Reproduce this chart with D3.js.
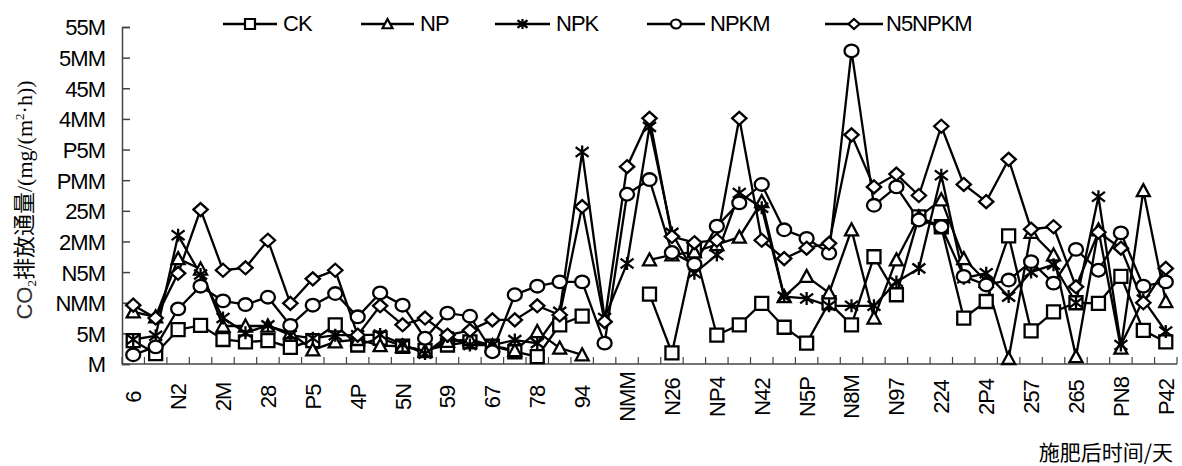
<!DOCTYPE html>
<html><head><meta charset="utf-8">
<script src="https://cdn.jsdelivr.net/npm/d3@7"></script>
<style>
body{margin:0;background:#fff;}
svg{display:block;}
</style></head>
<body>
<svg id="chart" width="1182" height="466"></svg>
<script>
// category labels (as rendered in the reference; only every second one is shown)
const days = ["6","9","N2","N6","2M","24","28","PN","P5","P9","4P","47","5N","55","59","6P","67","72","78","86","94","97","NMM","NNP","N26","NPM","NP4","NP8","N42","N47","N5P","N66","N8M","N88","N97","2NM","224","229","2P4","245","257","26N","265","292","PN8","PPM","P42"];
const yTickValues = [0,50,100,150,200,250,300,350,400,450,500,550];
const yTickLabels = ["M","5M","NMM","N5M","2MM","25M","PMM","P5M","4MM","45M","5MM","55M"];
const seriesNames = ["CK","NP","NPK","NPKM","N5NPKM"];
const CK     = [38,17,56,63,40,36,38,27,38,64,31,42,29,22,31,36,29,20,12,64,78,null,null,114,18,186,47,64,99,60,34,100,64,175,113,240,224,75,102,209,54,85,100,99,143,55,36];
const NP     = [85,77,172,155,62,62,62,51,23,36,40,30,29,21,37,40,30,22,53,26,15,null,null,170,178,183,195,207,265,110,143,116,219,75,170,240,268,172,135,9,215,178,12,219,26,283,102];
const NPK    = [40,46,210,146,75,51,63,47,42,47,47,48,32,17,45,31,31,39,34,85,346,75,164,387,214,148,178,279,255,110,107,95,95,95,134,156,308,140,148,110,150,162,100,273,31,105,53];
const NPKM   = [15,28,90,127,103,97,109,63,96,115,77,116,96,42,83,78,20,113,127,134,134,34,277,301,182,163,225,263,293,219,205,181,511,259,289,235,224,143,129,137,167,132,187,153,214,127,134];
const N5NPKM = [96,75,148,252,153,157,202,99,139,153,47,95,64,75,47,55,72,72,95,80,257,69,322,401,208,198,202,401,202,172,189,197,374,289,310,275,388,293,265,334,220,224,126,215,189,100,156];
const seriesData = [CK, NP, NPK, NPKM, N5NPKM];
const symbolKinds = ["square","triangle","star","circle","diamond"];

const svg = d3.select("#chart");
const x = d3.scaleBand().domain(days).range([122,1177]).padding(0);
const y = d3.scaleLinear().domain([0,550]).range([364,27]);

function symbolPath(kind, s){
  const h = s/2;
  switch(kind){
    case "square": return `M${-h},${-h}H${h}V${h}H${-h}Z`;
    case "triangle": return `M0,${-h}L${h},${h*0.85}L${-h},${h*0.85}Z`;
    case "diamond": return `M0,${-h}L${h*1.1},0L0,${h}L${-h*1.1},0Z`;
    case "circle": return `M${-h},0A${h},${h*0.9} 0 1,0 ${h},0A${h},${h*0.9} 0 1,0 ${-h},0Z`;
    case "star": return `M0,${-h}V${h}M${-h},${-h*0.75}L${h},${h*0.75}M${-h},${h*0.75}L${h},${-h*0.75}`;
  }
}

// axes
const axisColor = "#444";
const yAxis = d3.axisLeft(y).tickValues(yTickValues).tickSize(-8).tickPadding(17)
  .tickFormat((d,i)=>yTickLabels[i]);
const gy = svg.append("g").attr("transform","translate(122,0)").call(yAxis);
gy.select(".domain").attr("stroke",axisColor).attr("stroke-width",1.5);
gy.selectAll(".tick line").attr("stroke",axisColor).attr("stroke-width",1.5);
gy.selectAll(".tick text").attr("font-family","Liberation Sans, Arial, sans-serif")
  .attr("font-size",22).attr("letter-spacing","-1px").attr("fill","#000").attr("dy","0.36em");

// x axis: domain line, inner ticks at band boundaries, labels every second category
const gx = svg.append("g");
gx.append("line").attr("x1",122).attr("x2",1177).attr("y1",364).attr("y2",364)
  .attr("stroke",axisColor).attr("stroke-width",1.5);
const bounds = days.map(d=>x(d)).concat([x(days[days.length-1])+x.bandwidth()]);
gx.selectAll("line.tk").data(bounds).join("line").attr("class","tk")
  .attr("x1",d=>d).attr("x2",d=>d).attr("y1",364).attr("y2",357)
  .attr("stroke",axisColor).attr("stroke-width",1.2);
gx.selectAll("text").data(days.filter((d,i)=>i%2===0)).join("text")
  .attr("transform",d=>`translate(${x(d)+x.bandwidth()/2},397) rotate(-90)`)
  .attr("text-anchor","middle").attr("dy","0.36em")
  .attr("font-family","Liberation Sans, Arial, sans-serif").attr("font-size",22)
  .attr("letter-spacing","-1px").text(d=>d);

// series lines
const line = d3.line().defined(v=>v!==null)
  .x((v,i)=>x(days[i])+x.bandwidth()/2).y(v=>y(v));
seriesData.forEach((arr,k)=>{
  svg.append("path").datum(arr).attr("d",line).attr("fill","none")
    .attr("stroke","#000").attr("stroke-width",2.3);
});
seriesData.forEach((arr,k)=>{
  const kind = symbolKinds[k];
  const pts = arr.map((v,i)=>({v,i})).filter(p=>p.v!==null);
  svg.append("g").selectAll("path").data(pts).join("path")
    .attr("transform",p=>`translate(${x(days[p.i])+x.bandwidth()/2},${y(p.v)})`)
    .attr("d",symbolPath(kind, kind==="circle"?14:13))
    .attr("fill",kind==="star"?"none":"#fff").attr("stroke","#000").attr("stroke-width",2.3);
});

// legend
const legendItems = [
  {x1:223,x2:277,tx:283},{x1:361,x2:414,tx:420},{x1:495,x2:550,tx:556},
  {x1:647,x2:705,tx:710},{x1:825,x2:883,tx:886}];
const lg = svg.append("g");
legendItems.forEach((it,k)=>{
  lg.append("line").attr("x1",it.x1).attr("x2",it.x2).attr("y1",24).attr("y2",24)
    .attr("stroke","#000").attr("stroke-width",2.3);
  lg.append("path").attr("transform",`translate(${(it.x1+it.x2)/2},24)`)
    .attr("d",symbolPath(symbolKinds[k],10))
    .attr("fill",symbolKinds[k]==="star"?"none":"#fff").attr("stroke","#000").attr("stroke-width",2.2);
  lg.append("text").attr("x",it.tx).attr("y",31).attr("font-family","Liberation Sans, Arial, sans-serif")
    .attr("font-size",22).attr("letter-spacing","-1px").text(seriesNames[k]);
});

// y axis title
const yt = svg.append("text").attr("transform","translate(32,200) rotate(-90)")
  .attr("text-anchor","middle").attr("font-size",22);
yt.append("tspan").attr("font-family","Liberation Sans, Arial, sans-serif").attr("fill","#333").text("CO");
yt.append("tspan").attr("font-family","Liberation Serif, serif").attr("font-size",13).attr("dy",4).text("2");
yt.append("tspan").attr("font-family","Noto Sans CJK SC").attr("dy",-4).text("排放通量");
yt.append("tspan").attr("font-family","Liberation Serif, serif").text("/(mg/(m");
yt.append("tspan").attr("font-family","Liberation Serif, serif").attr("font-size",13).attr("dy",-8).text("2");
yt.append("tspan").attr("font-family","Liberation Serif, serif").attr("dy",8).text("·h))");

// x axis title
svg.append("text").attr("x",1173).attr("y",460).attr("text-anchor","end")
  .attr("font-family","Noto Sans CJK SC").attr("font-size",21).text("施肥后时间/天");
</script>
</body></html>
